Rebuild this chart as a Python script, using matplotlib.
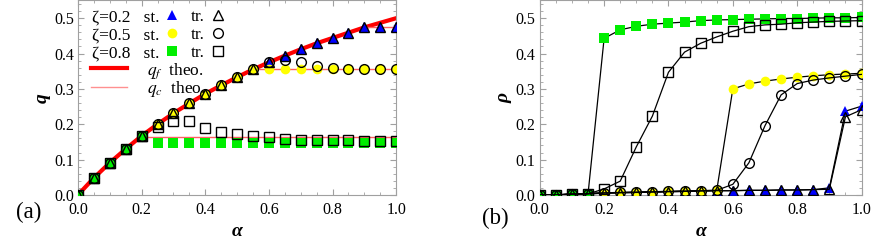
import matplotlib
matplotlib.use("Agg")
import matplotlib.pyplot as plt
from matplotlib.lines import Line2D
from matplotlib.ticker import MultipleLocator

plt.rcParams["font.family"] = ["Liberation Serif", "DejaVu Serif"]
plt.rcParams["mathtext.fontset"] = "stix"

alpha = [0.0, 0.05, 0.1, 0.15, 0.2, 0.25, 0.3, 0.35, 0.4, 0.45, 0.5,
         0.55, 0.6, 0.65, 0.7, 0.75, 0.8, 0.85, 0.9, 0.95, 1.0]

# panel (a): overlap q
qf_theo = [0.0, 0.048, 0.091, 0.130, 0.167, 0.200, 0.231, 0.259, 0.286, 0.310, 0.333,
           0.355, 0.375, 0.394, 0.412, 0.429, 0.444, 0.459, 0.474, 0.487, 0.500]
qc_levels = [0.474, 0.355, 0.163]
qc_start = [0.90, 0.55, 0.195]

q_st_02 = [0.0, 0.048, 0.091, 0.130, 0.167, 0.200, 0.231, 0.259, 0.286, 0.310, 0.333,
           0.355, 0.375, 0.394, 0.412, 0.429, 0.444, 0.459, 0.474, 0.475, 0.474]
q_st_05 = [0.0, 0.048, 0.091, 0.130, 0.167, 0.200, 0.231, 0.259, 0.286, 0.310, 0.333,
           0.355, 0.355, 0.355, 0.355, 0.355, 0.355, 0.355, 0.355, 0.355, 0.355]
q_st_08 = [0.0, 0.048, 0.091, 0.130, 0.167, 0.148, 0.148, 0.148, 0.148, 0.148, 0.148,
           0.148, 0.148, 0.148, 0.148, 0.148, 0.148, 0.148, 0.148, 0.148, 0.148]
q_tr_02 = [0.0, 0.048, 0.091, 0.130, 0.167, 0.200, 0.231, 0.259, 0.286, 0.310, 0.333,
           0.355, 0.375, 0.394, 0.412, 0.429, 0.444, 0.459, 0.474, 0.475, 0.474]
q_tr_05 = [0.0, 0.048, 0.091, 0.130, 0.167, 0.200, 0.231, 0.259, 0.286, 0.310, 0.333,
           0.355, 0.376, 0.382, 0.376, 0.365, 0.358, 0.356, 0.356, 0.355, 0.355]
q_tr_08 = [0.0, 0.048, 0.091, 0.130, 0.167, 0.193, 0.208, 0.208, 0.188, 0.177, 0.171,
           0.167, 0.163, 0.158, 0.155, 0.155, 0.155, 0.154, 0.153, 0.153, 0.153]

# panel (b): rho
rho_st_02 = [0.0, 0.0, 0.002, 0.003, 0.005, 0.006, 0.007, 0.008, 0.009, 0.010, 0.011,
             0.012, 0.012, 0.013, 0.013, 0.014, 0.014, 0.015, 0.020, 0.237, 0.251]
rho_st_05 = [0.0, 0.0, 0.003, 0.004, 0.006, 0.007, 0.008, 0.009, 0.010, 0.011, 0.012,
             0.013, 0.300, 0.314, 0.322, 0.328, 0.333, 0.337, 0.340, 0.342, 0.344]
rho_st_08 = [0.0, 0.0, 0.002, 0.003, 0.443, 0.467, 0.477, 0.483, 0.486, 0.489, 0.493,
             0.495, 0.496, 0.497, 0.498, 0.499, 0.499, 0.500, 0.501, 0.501, 0.502]
rho_tr_02 = [0.0, 0.0, 0.002, 0.003, 0.005, 0.006, 0.007, 0.008, 0.009, 0.010, 0.011,
             0.012, 0.012, 0.013, 0.013, 0.014, 0.014, 0.015, 0.016, 0.221, 0.241]
rho_tr_05 = [0.0, 0.0, 0.003, 0.004, 0.006, 0.007, 0.008, 0.009, 0.010, 0.011, 0.012,
             0.013, 0.030, 0.091, 0.196, 0.283, 0.315, 0.325, 0.331, 0.336, 0.341]
rho_tr_08 = [0.0, 0.0, 0.002, 0.003, 0.017, 0.039, 0.136, 0.223, 0.347, 0.404, 0.429,
             0.447, 0.463, 0.476, 0.481, 0.483, 0.487, 0.489, 0.491, 0.492, 0.493]

zetas = ["0.2", "0.5", "0.8"]
shapes = ["^", "o", "s"]
fills = ["#0000ff", "#ffff00", "#00ee00"]
frame = "#a0a0a0"
ms = 7


def style_axes(ax, ylabel, tag, tag_x, tag_y):
    ax.set_xlim(0, 1.0)
    ax.set_ylim(0, 0.55)
    ax.xaxis.set_major_locator(MultipleLocator(0.2))
    ax.xaxis.set_minor_locator(MultipleLocator(0.05))
    ax.yaxis.set_major_locator(MultipleLocator(0.1))
    ax.yaxis.set_minor_locator(MultipleLocator(0.02))
    ax.xaxis.set_major_formatter(lambda v, p: f"{v:.1f}")
    ax.yaxis.set_major_formatter(lambda v, p: f"{v:.1f}")
    ax.tick_params(which="both", direction="in", top=True, right=True,
                   color=frame, labelsize=11.5)
    ax.tick_params(axis="x", pad=5)
    ax.tick_params(axis="y", pad=3)
    ax.tick_params(which="major", length=4)
    ax.tick_params(which="minor", length=2)
    for s in ax.spines.values():
        s.set_color(frame)
    ax.set_xlabel("α", fontsize=14, style="italic", weight="bold", labelpad=4)
    ax.set_ylabel(ylabel, fontsize=14, style="italic", weight="bold", labelpad=2)
    ax.text(tag_x, tag_y, tag, transform=ax.transAxes, fontsize=16.5, va="baseline")


fig = plt.figure(figsize=(8.72, 2.48), dpi=100)
ax1 = fig.add_axes([0.0894, 0.214, 0.365, 0.784])
ax2 = fig.add_axes([0.619, 0.214, 0.369, 0.784])

# (a)
ax1.plot(alpha, qf_theo, color="#ff0000", lw=3.0, zorder=2)
for lev, x0 in zip(qc_levels, qc_start):
    ax1.plot([x0, 1.0], [lev, lev], color="#ff6060", lw=1.0, zorder=2)

q_st = [q_st_02, q_st_05, q_st_08]
q_tr = [q_tr_02, q_tr_05, q_tr_08]
for y, m, c in zip(q_st, shapes, fills):
    ax1.plot(alpha, y, ls="none", marker=m, ms=ms, mfc=c, mec=c, mew=0, zorder=3)
for y, m in zip(q_tr, shapes):
    ax1.plot(alpha, y, ls="none", marker=m, ms=ms, mfc="none", mec="black", mew=1.0, zorder=4)
style_axes(ax1, "q", "(a)", -0.195, -0.12)

# (b)
rho_st = [rho_st_02, rho_st_05, rho_st_08]
rho_tr = [rho_tr_02, rho_tr_05, rho_tr_08]
for y, m, c in zip(rho_st, shapes, fills):
    ax2.plot(alpha, y, color="black", lw=0.9, marker=m, ms=ms, mfc=c, mec=c, mew=0, zorder=3)
for y, m in zip(rho_tr, shapes):
    ax2.plot(alpha, y, color="black", lw=0.9, marker=m, ms=ms, mfc="none", mec="black",
             mew=1.0, zorder=4)
style_axes(ax2, "ρ", "(b)", -0.18, -0.15)

# legend for markers (plain text so all rows have the same height)
handles = []
labels = []
for z, m, c in zip(zetas, shapes, fills):
    handles.append(Line2D([], [], ls="none", marker=m, ms=ms, mfc=c, mec=c, mew=0))
    labels.append("ζ=" + z + "   st.")
for z, m in zip(zetas, shapes):
    handles.append(Line2D([], [], ls="none", marker=m, ms=ms, mfc="none", mec="black", mew=1.0))
    labels.append("tr.")
leg1 = ax1.legend(handles, labels, ncol=2, markerfirst=False, frameon=False,
                  loc="upper left", bbox_to_anchor=(0.044, 0.957), fontsize=12.5,
                  handlelength=0.8, handletextpad=0.35, columnspacing=0.65,
                  labelspacing=0.12, borderpad=0, borderaxespad=0)
ax1.add_artist(leg1)
theo_handles = [Line2D([], [], color="#ff0000", lw=3.0),
                Line2D([], [], color="#ff9090", lw=1.0)]
ax1.legend(theo_handles, ["$q_f$  theo.", "$q_c$  theo."], frameon=False,
           loc="upper left", bbox_to_anchor=(0.041, 0.688), fontsize=12.5,
           handlelength=2.1, handletextpad=1.15, labelspacing=-0.08,
           borderpad=0, borderaxespad=0)

fig.savefig("out.png", dpi=100)
